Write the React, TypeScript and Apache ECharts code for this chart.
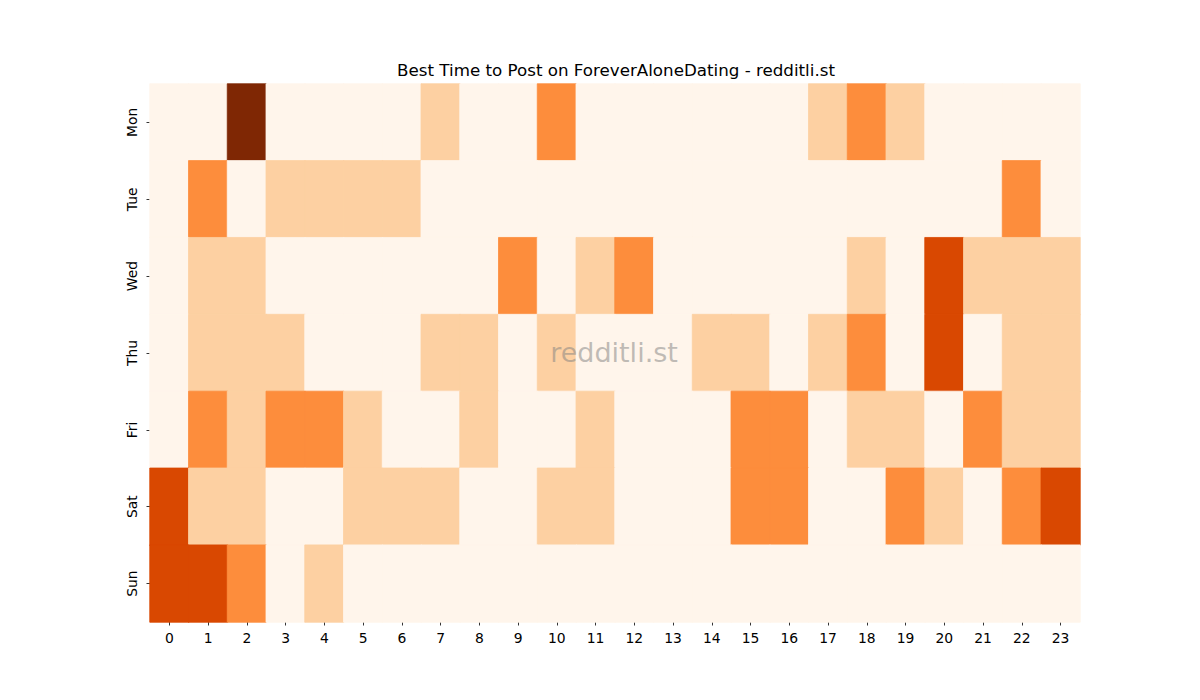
import React, { useEffect, useRef } from "react";
import * as echarts from "echarts";

const hours = Array.from({ length: 24 }, (_, i) => String(i));
const days = ["Mon", "Tue", "Wed", "Thu", "Fri", "Sat", "Sun"];

// Posting activity level per hour (0 = quietest, 4 = best)
const mon = [0, 0, 4, 0, 0, 0, 0, 1, 0, 0, 2, 0, 0, 0, 0, 0, 0, 1, 2, 1, 0, 0, 0, 0];
const tue = [0, 2, 0, 1, 1, 1, 1, 0, 0, 0, 0, 0, 0, 0, 0, 0, 0, 0, 0, 0, 0, 0, 2, 0];
const wed = [0, 1, 1, 0, 0, 0, 0, 0, 0, 2, 0, 1, 2, 0, 0, 0, 0, 0, 1, 0, 3, 1, 1, 1];
const thu = [0, 1, 1, 1, 0, 0, 0, 1, 1, 0, 1, 0, 0, 0, 1, 1, 0, 1, 2, 0, 3, 0, 1, 1];
const fri = [0, 2, 1, 2, 2, 1, 0, 0, 1, 0, 0, 1, 0, 0, 0, 2, 2, 0, 1, 1, 0, 2, 1, 1];
const sat = [3, 1, 1, 0, 0, 1, 1, 1, 0, 0, 1, 1, 0, 0, 0, 2, 2, 0, 0, 2, 1, 0, 2, 3];
const sun = [3, 3, 2, 0, 1, 0, 0, 0, 0, 0, 0, 0, 0, 0, 0, 0, 0, 0, 0, 0, 0, 0, 0, 0];

const rows = [mon, tue, wed, thu, fri, sat, sun];

// "Oranges" sequential palette; levels 0..4 map to every second stop
const oranges = [
  "#fff5eb", "#fee6ce", "#fdd0a2", "#fdae6b", "#fd8d3c",
  "#f16913", "#d94801", "#a63603", "#7f2704",
];
const maxLevel = 4;

const FONT = "DejaVu Sans";

function levelColor(v: number): string {
  const idx = Math.round((v / maxLevel) * (oranges.length - 1));
  return oranges[idx];
}

export default function App() {
  const ref = useRef<HTMLDivElement>(null);

  useEffect(() => {
    if (!ref.current) return;
    const chart = echarts.init(ref.current, undefined, { renderer: "svg" });

    const data = [] as any[];
    rows.forEach((row, d) =>
      row.forEach((v, h) => {
        data.push({
          value: [h, d, v],
          // stroke each cell in its own fill colour to close hairline seams
          itemStyle: { borderColor: levelColor(v), borderWidth: 0.8 },
        });
      })
    );

    chart.setOption({
      animation: false,
      backgroundColor: "#ffffff",
      title: {
        text: "Best Time to Post on ForeverAloneDating - redditli.st",
        left: 611,
        textAlign: "center",
        top: 56,
        textStyle: { fontFamily: FONT, fontSize: 16.7, fontWeight: "normal", color: "#000" },
      },
      grid: { left: 150, right: 120, top: 84, bottom: 78 },
      xAxis: {
        type: "category",
        data: hours,
        axisLine: { show: false },
        axisTick: { show: true, alignWithLabel: true, length: 3.5, lineStyle: { color: "#000", width: 0.8 } },
        axisLabel: { fontFamily: FONT, fontSize: 13.9, color: "#000", margin: 9 },
        splitArea: { show: false },
      },
      yAxis: {
        type: "category",
        data: days,
        inverse: true,
        axisLine: { show: false },
        axisTick: { show: true, alignWithLabel: true, length: 3.5, lineStyle: { color: "#000", width: 0.8 } },
        axisLabel: { fontFamily: FONT, fontSize: 13.9, color: "#000", rotate: 90, margin: 11 },
        splitArea: { show: false },
      },
      visualMap: {
        show: false,
        type: "continuous",
        min: 0,
        max: maxLevel,
        dimension: 2,
        inRange: { color: oranges },
      },
      series: [
        {
          type: "heatmap",
          data,
          emphasis: { disabled: true },
        },
      ],
      graphic: [
        {
          type: "text",
          x: 614,
          y: 352,
          style: {
            text: "redditli.st",
            font: `27px "${FONT}"`,
            fill: "rgba(128,128,128,0.5)",
            textAlign: "center",
            textVerticalAlign: "middle",
          },
          z: 100,
        },
      ],
    });

    return () => chart.dispose();
  }, []);

  return (
    <div
      ref={ref}
      style={{ position: "fixed", left: 0, top: 0, width: 1200, height: 700 }}
    />
  );
}
